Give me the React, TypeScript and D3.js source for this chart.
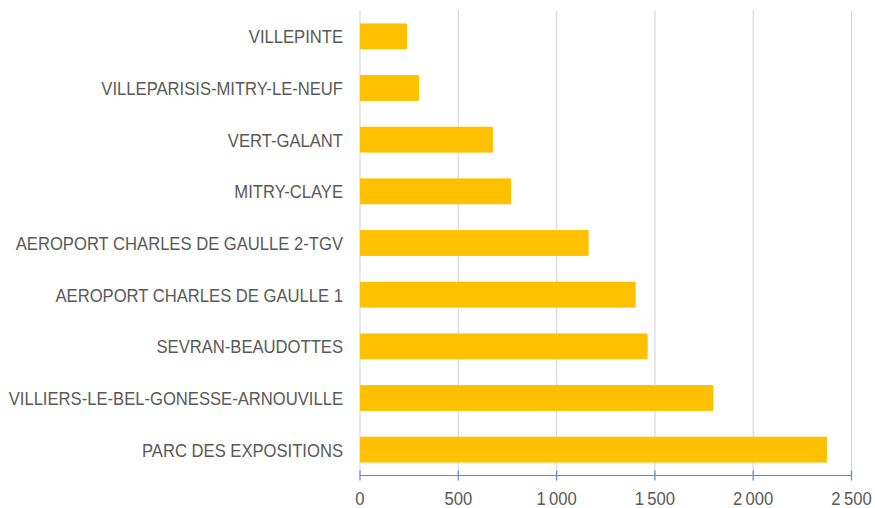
import React from "react";
import * as d3 from "d3";

const categories = [
  "VILLEPINTE",
  "VILLEPARISIS-MITRY-LE-NEUF",
  "VERT-GALANT",
  "MITRY-CLAYE",
  "AEROPORT CHARLES DE GAULLE 2-TGV",
  "AEROPORT CHARLES DE GAULLE 1",
  "SEVRAN-BEAUDOTTES",
  "VILLIERS-LE-BEL-GONESSE-ARNOUVILLE",
  "PARC DES EXPOSITIONS",
];
const values = [239, 300, 676, 768, 1163, 1402, 1463, 1797, 2375];
const tickValues = [0, 500, 1000, 1500, 2000, 2500];

const W = 875;
const H = 508;
const margin = { left: 360, right: 23.5, top: 10.5, bottom: 32.5 };

export default function App() {
  const x = d3.scaleLinear().domain([0, 2500]).range([margin.left, W - margin.right]);
  const y = d3
    .scaleBand<string>()
    .domain(categories)
    .range([margin.top, H - margin.bottom])
    .paddingInner(0.5)
    .paddingOuter(0.25);
  const fmt = (v: number) => d3.format(",")(v).replace(/,/g, "\u2009");
  const axisY = H - margin.bottom;
  const font = "'Liberation Sans', Arial, sans-serif";
  const fs = 19;
  const sx = 0.875;
  return (
    <div style={{ position: "absolute", left: 0, top: 0 }}>
      <svg width={W} height={H} style={{ display: "block", background: "#fff" }}>
        {tickValues.map((t) => (
          <line key={"g" + t} x1={x(t)} x2={x(t)} y1={margin.top} y2={axisY} stroke="#D9D9D9" strokeWidth={1.2} />
        ))}
        {categories.map((c, i) => (
          <rect key={c} x={x(0)} y={y(c)} width={x(values[i]) - x(0)} height={y.bandwidth()} fill="#FFC000" />
        ))}
        <line x1={x(0)} x2={x(2500)} y1={axisY} y2={axisY} stroke="#5B8BD0" strokeWidth={1.2} />
        {tickValues.map((t) => (
          <line key={"t" + t} x1={x(t)} x2={x(t)} y1={axisY - 5} y2={axisY + 5} stroke="#5B8BD0" strokeWidth={1.2} />
        ))}
        {tickValues.map((t) => (
          <text
            key={"l" + t}
            transform={`translate(${x(t)},${axisY + 29.5}) scale(${sx},1)`}
            textAnchor="middle"
            fontFamily={font}
            fontSize={fs}
            fill="#595959"
          >
            {fmt(t)}
          </text>
        ))}
        {categories.map((c) => (
          <text
            key={"c" + c}
            transform={`translate(${x(0) - 17},${(y(c) as number) + y.bandwidth() / 2}) scale(${sx},1)`}
            dy="0.36em"
            textAnchor="end"
            fontFamily={font}
            fontSize={fs}
            fill="#595959"
          >
            {c}
          </text>
        ))}
      </svg>
    </div>
  );
}
